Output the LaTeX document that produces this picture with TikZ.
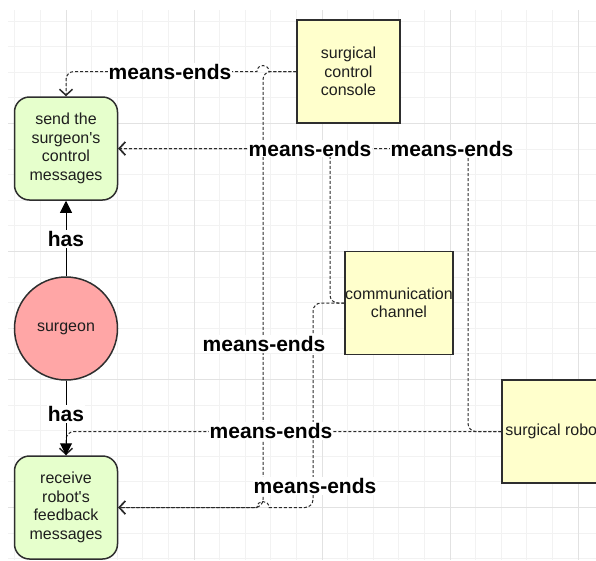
\documentclass[tikz,border=0pt]{standalone}
\usepackage{fontspec}
\setmainfont{Liberation Sans}[Ligatures=TeXOff]
\usetikzlibrary{arrows.meta}

\definecolor{gridminor}{HTML}{F2F2F2}
\definecolor{gridmajor}{HTML}{E2E2E2}
\definecolor{nodeline}{HTML}{2E2E2E}
\definecolor{nodetext}{HTML}{1E1E1E}
\definecolor{goalfill}{HTML}{E6FFCC}
\definecolor{actorfill}{HTML}{FFA6A6}
\definecolor{resfill}{HTML}{FFFFCC}
\definecolor{edgecol}{HTML}{2A2A2A}

\begin{document}
\begin{tikzpicture}[x=1pt,y=-1pt,
  box/.style={draw=nodeline, line width=1.5pt, minimum width=103pt, minimum height=103pt,
    inner sep=0pt, align=center, text=nodetext, font=\fontsize{16}{18.5}\selectfont},
  goal/.style={box, rounded corners=15pt, fill=goalfill},
  res/.style={box, fill=resfill},
  actor/.style={circle, draw=nodeline, line width=1.5pt, minimum size=103pt, inner sep=0pt,
    fill=actorfill, text=nodetext, font=\fontsize{16}{18.5}\selectfont},
  me/.style={draw=edgecol, line width=1pt, dash pattern=on 3pt off 2pt,
    -{Straight Barb[length=6pt,width=13pt,line width=1.5pt]}},
  meround/.style={me, rounded corners=8pt},
  hasedge/.style={draw=black, line width=1pt, -{Triangle[length=12pt,width=12pt]}},
  lbl/.style={fill=white, inner sep=1pt, text=black, font=\bfseries\fontsize{21}{24}\selectfont},
]
\useasboundingbox (0,0) rectangle (596,560);

% background grid
\begin{scope}
  \clip (8,10) rectangle (596,560);
  \foreach \k in {-2,...,21} \draw[gridminor, line width=1pt] ({66+25.6*\k},10) -- ({66+25.6*\k},560);
  \foreach \k in {-4,...,17} \draw[gridminor, line width=1pt] (8,{123.5+25.6*\k}) -- (596,{123.5+25.6*\k});
  \foreach \k in {0,...,4} \draw[gridmajor, line width=1pt] ({66+128*\k},10) -- ({66+128*\k},560);
  \foreach \k in {0,...,3} \draw[gridmajor, line width=1pt] (8,{123.5+128*\k}) -- (596,{123.5+128*\k});
\end{scope}

% elements
\node[goal] (send) at (66,148.5) {send the\\surgeon's\\control\\messages};
\node[goal] (receive) at (66,507.5) {receive\\robot's\\feedback\\messages};
\node[actor] (surgeon) at (66,328.5) {surgeon};
\node[res] (console) at (348.5,71.5) {surgical\\control\\console};
\node[res] (comm) at (399,303) {communication\\channel};
\node[res] (robot) at (553.5,431.5) {surgical robot};

% channel x positions for routed links
\coordinate (xb) at (330,0);
\coordinate (xc) at (468,0);
\coordinate (xd) at (263,0);

% means-ends links
\draw[meround] (console.west) -| (receive.east -| xd) -- (receive.east);
\draw[me] (console.west) -- (269,71.5) .. controls (269,63.5) and (257,63.5) .. (257,71.5)
  -- (74,71.5) .. controls (69.6,71.5) and (66,75.1) .. (66,79.5) -- (send.north);
\draw[meround] (comm.west) -| (send.east -| xb) -- (send.east);
\draw[meround] (robot.west) -| (send.east -| xc) -- (send.east);
\draw[me] (comm.west) -- (321,303) .. controls (316.6,303) and (313,306.6) .. (313,311)
  -- (313,499.5) .. controls (313,503.9) and (309.4,507.5) .. (305,507.5)
  -- (269,507.5) .. controls (269,499.5) and (257,499.5) .. (257,507.5) -- (receive.east);
\draw[meround] (robot.west) -| (receive.north);

% has links
\draw[hasedge] (surgeon.north) -- (send.south);
\draw[hasedge] (surgeon.south) -- (receive.north);

% link labels
\node[lbl] (l1) at (170,71.5) {means-ends};
\node[lbl] (l2) at (310,148.5) {means-ends};
\node[lbl] (l3) at (452,148.5) {means-ends};
\node[lbl] (l4) at (264,344) {means-ends};
\node[lbl] (l5) at (271,431) {means-ends};
\node[lbl] (l6) at (315,486) {means-ends};
\node[lbl] (h1) at (66,239) {has};
\node[lbl] (h2) at (66,414) {has};
\end{tikzpicture}
\end{document}
